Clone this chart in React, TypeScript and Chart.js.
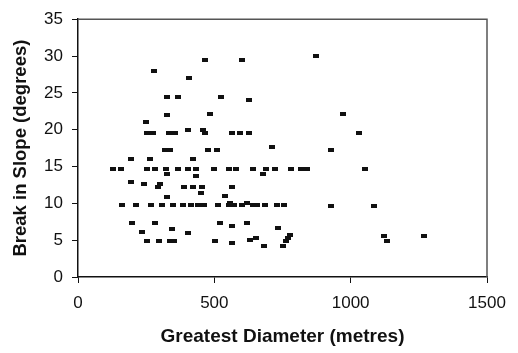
import React, { useEffect, useRef } from "react";
import { Chart, registerables } from "chart.js";

Chart.register(...registerables);

// Greatest diameter (metres) of each feature
const diameters: number[] = [
  872, 465, 601, 280, 406, 326, 368, 525, 626, 326, 483, 972, 248, 402, 459,
  253, 275, 333, 355, 465, 564, 593, 626, 1029,
  712, 319, 337, 477, 508, 928,
  194, 264, 422,
  130, 156, 254, 282, 321, 367, 404, 432, 498, 553, 580, 642, 691, 724, 780, 817, 839, 1051,
  328, 679, 432, 194, 243, 302, 295, 389, 422, 454, 563, 452, 538, 325, 557, 620,
  160, 211, 266, 308, 347, 386, 416, 441, 463, 512, 553, 571, 603, 641, 655, 685, 729, 754,
  928, 1084,
  197, 282, 520, 620, 563, 733, 343, 235, 404,
  777, 770, 764, 1122, 1134, 1268,
  252, 297, 337, 352, 502, 632, 654, 564, 681, 752,
];

// Break in slope (degrees) of each feature, same order
const slopes: number[] = [
  30.0, 29.4, 29.4, 28.0, 27.0, 24.5, 24.5, 24.4, 24.0, 22.0, 22.1, 22.1, 21.1, 20.0, 20.0,
  19.6, 19.6, 19.6, 19.6, 19.6, 19.6, 19.6, 19.6, 19.6,
  17.7, 17.2, 17.2, 17.2, 17.2, 17.2,
  16.0, 16.0, 16.0,
  14.6, 14.6, 14.6, 14.6, 14.6, 14.6, 14.6, 14.6, 14.6, 14.6, 14.6, 14.6, 14.6, 14.6, 14.6, 14.6, 14.6, 14.6,
  13.95, 13.95, 13.7, 12.95, 12.6, 12.6, 12.2, 12.2, 12.2, 12.2, 12.2, 11.4, 10.95, 10.85, 10.1, 10.1,
  9.75, 9.75, 9.75, 9.75, 9.75, 9.75, 9.75, 9.75, 9.75, 9.75, 9.75, 9.75, 9.75, 9.75, 9.75, 9.75, 9.75, 9.75,
  9.7, 9.7,
  7.3, 7.3, 7.3, 7.3, 6.95, 6.7, 6.5, 6.05, 5.95,
  5.65, 5.3, 4.85, 5.5, 4.85, 5.6,
  4.9, 4.9, 4.9, 4.9, 4.9, 5.05, 5.3, 4.55, 4.15, 4.15,
];

const xTitle = "Greatest Diameter (metres)";
const yTitle = "Break in Slope (degrees)";
const xMin = 0, xMax = 1500, xStep = 500;
const yMin = 0, yMax = 35, yStep = 5;

const FONT = "'Liberation Sans', Arial, Helvetica, sans-serif";

export default function App() {
  const ref = useRef<HTMLCanvasElement | null>(null);

  useEffect(() => {
    document.body.style.margin = "0";
    const canvas = ref.current;
    if (!canvas) return;

    const marker = document.createElement("canvas");
    marker.width = 6;
    marker.height = 4;
    const mctx = marker.getContext("2d")!;
    mctx.fillStyle = "#111";
    mctx.fillRect(0, 0, 6, 4);

    const points = diameters.map((d, i) => ({ x: d, y: slopes[i] }));

    const frame = {
      id: "frame",
      afterDraw(chart: any) {
        const { ctx, chartArea } = chart;
        ctx.save();
        ctx.strokeStyle = "#555";
        ctx.lineWidth = 1.5;
        ctx.beginPath();
        ctx.moveTo(chartArea.left, chartArea.top);
        ctx.lineTo(chartArea.right, chartArea.top);
        ctx.lineTo(chartArea.right, chartArea.bottom);
        ctx.stroke();
        ctx.restore();
      },
    };

    const chart = new Chart(canvas, {
      type: "scatter",
      data: {
        datasets: [
          {
            data: points,
            pointStyle: marker as any,
            pointRadius: 3,
            backgroundColor: "#111",
            borderColor: "#111",
          },
        ],
      },
      options: {
        animation: false,
        responsive: false,
        maintainAspectRatio: false,
        layout: { padding: { left: 0, right: 31, top: 15, bottom: 0 } },
        plugins: { legend: { display: false }, tooltip: { enabled: false } },
        scales: {
          x: {
            type: "linear",
            min: xMin,
            max: xMax,
            afterFit(scale: any) {
              scale.height = 76;
            },
            ticks: {
              stepSize: xStep,
              color: "#111",
              font: { family: FONT, size: 17 },
              padding: 10,
              maxRotation: 0,
              callback: (v: any) => String(v),
            },
            grid: {
              drawOnChartArea: false,
              drawTicks: true,
              tickLength: 6,
              color: "#111",
            },
            border: { display: true, color: "#111", width: 1.5 },
            title: {
              display: true,
              text: xTitle,
              color: "#111",
              font: { family: FONT, size: 19, weight: "bold" },
              padding: { top: 4, bottom: 5 },
            },
          },
          y: {
            type: "linear",
            min: yMin,
            max: yMax,
            afterFit(scale: any) {
              scale.width = 78;
            },
            ticks: {
              stepSize: yStep,
              color: "#111",
              font: { family: FONT, size: 17 },
              padding: 9,
              callback: (v: any) => String(v),
            },
            grid: {
              drawOnChartArea: false,
              drawTicks: true,
              tickLength: 6,
              color: "#111",
            },
            border: { display: true, color: "#111", width: 1.5 },
            title: {
              display: true,
              text: yTitle,
              color: "#111",
              font: { family: FONT, size: 18.5, weight: "bold" },
              padding: { top: 10, bottom: 0 },
            },
          },
        },
      },
      plugins: [frame],
    });

    return () => chart.destroy();
  }, []);

  return (
    <div style={{ width: 518, height: 353, background: "#fff" }}>
      <canvas ref={ref} width={518} height={353} style={{ display: "block" }} />
    </div>
  );
}
